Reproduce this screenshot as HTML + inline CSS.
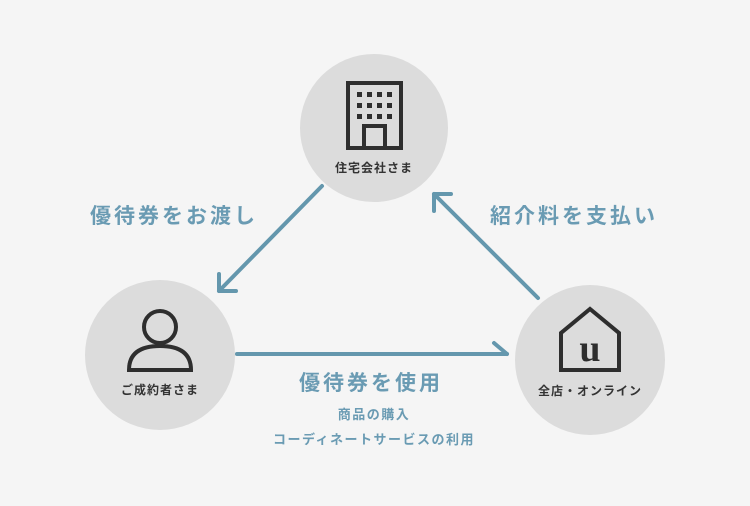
<!DOCTYPE html>
<html><head><meta charset="utf-8"><style>
html,body{margin:0;padding:0;background:#f5f5f5;}
#c{position:relative;width:750px;height:506px;overflow:hidden;background:#f5f5f5;font-family:"Liberation Sans","Noto Sans CJK JP",sans-serif;}
.t{position:absolute;white-space:nowrap;}
.big{color:#6a9bb3;font-size:21px;font-weight:bold;letter-spacing:3px;line-height:24px;}
.sm{color:#6a9bb3;font-size:13px;font-weight:bold;letter-spacing:1.5px;line-height:16px;text-align:center;}
.lbl{color:#333;font-size:12px;font-weight:bold;letter-spacing:1px;line-height:14px;text-align:center;width:160px;}
</style></head><body><div id="c">
<svg width="750" height="506" style="position:absolute;left:0;top:0">
<circle cx="374" cy="128" r="74" fill="#dcdcdc"/>
<circle cx="160" cy="355" r="75" fill="#dcdcdc"/>
<circle cx="590" cy="360" r="75" fill="#dcdcdc"/>
<g stroke="#6497ad" stroke-width="4" fill="none" stroke-linecap="round" stroke-linejoin="round">
<line x1="322" y1="186" x2="219" y2="291"/>
<polyline points="219,274 219,291 236,291"/>
<line x1="538" y1="298" x2="434" y2="194"/>
<polyline points="434,211 434,194 451,194"/>
<line x1="237" y1="354" x2="507" y2="354"/>
<line x1="507" y1="354" x2="494" y2="343"/>
</g>
<g>
<rect x="348" y="83" width="53" height="65" fill="none" stroke="#2e2e2e" stroke-width="4"/>
<rect x="364" y="126" width="21" height="22" fill="none" stroke="#2e2e2e" stroke-width="4"/>
<g fill="#2e2e2e">
<rect x="357" y="92" width="5" height="5"/><rect x="367" y="92" width="5" height="5"/><rect x="377" y="92" width="5" height="5"/><rect x="387" y="92" width="5" height="5"/>
<rect x="357" y="103" width="5" height="5"/><rect x="367" y="103" width="5" height="5"/><rect x="377" y="103" width="5" height="5"/><rect x="387" y="103" width="5" height="5"/>
<rect x="357" y="114" width="5" height="5"/><rect x="367" y="114" width="5" height="5"/><rect x="377" y="114" width="5" height="5"/><rect x="387" y="114" width="5" height="5"/>
</g></g>
<g stroke="#2e2e2e" stroke-width="4" fill="none">
<circle cx="160" cy="327" r="16"/>
<path d="M129,370 L191,370 Q191,346 160,346 Q129,346 129,370 Z"/>
</g>
<g stroke="#2e2e2e" stroke-width="4" fill="none" stroke-linejoin="miter">
<path d="M561,370 L561,333 L590,309 L619,333 L619,370 Z"/>
</g>
<text x="590" y="361" text-anchor="middle" font-family="Liberation Serif,serif" font-weight="bold" font-size="38" fill="#2e2e2e">u</text>
</svg>
<div class="t lbl" style="left:294px;top:161px">住宅会社さま</div>
<div class="t lbl" style="left:80px;top:383px">ご成約者さま</div>
<div class="t lbl" style="left:510px;top:384px">全店・オンライン</div>
<div class="t big" style="left:90px;top:205px">優待券をお渡し</div>
<div class="t big" style="left:490px;top:205px">紹介料を支払い</div>
<div class="t big" style="left:299px;top:372px">優待券を使用</div>
<div class="t sm" style="left:224px;top:407px;width:300px">商品の購入</div>
<div class="t sm" style="left:224px;top:432px;width:300px">コーディネートサービスの利用</div>
</div></body></html>
